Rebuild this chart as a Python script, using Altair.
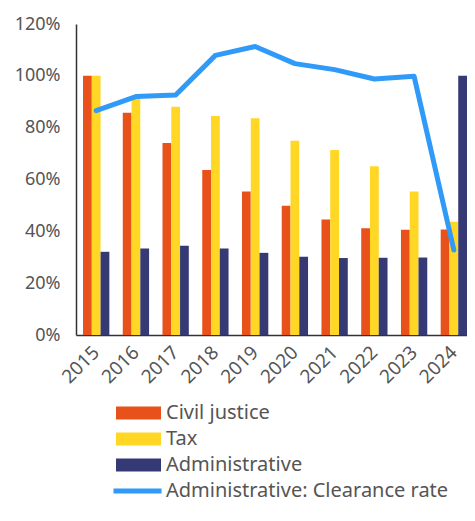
import altair as alt
import pandas as pd

years = [str(y) for y in range(2015, 2025)]
civil = [100, 85.8, 74.1, 63.7, 55.4, 49.9, 44.6, 41.2, 40.6, 40.7]
tax = [100, 91.5, 88.1, 84.5, 83.6, 75.0, 71.4, 65.1, 55.4, 43.7]
admin = [32.1, 33.4, 34.4, 33.4, 31.7, 30.2, 29.7, 29.8, 29.9, 100]
clearance = [86.6, 92.0, 92.6, 107.9, 111.3, 104.7, 102.4, 98.8, 99.8, 32.8]

series_names = ["Civil justice", "Tax", "Administrative"]
series_colors = ["#E85119", "#FFD724", "#363A74"]
line_name = "Administrative: Clearance rate"
line_color = "#2F9AF7"
y_ticks = [0, 20, 40, 60, 80, 100, 120]

rows = []
for i, yr in enumerate(years):
    for s, vals in zip(series_names, [civil, tax, admin]):
        rows.append({"year": yr, "series": s, "value": vals[i]})
bars_df = pd.DataFrame(rows)
line_df = pd.DataFrame({"year": years, "value": clearance, "line": [line_name] * len(years)})

FONT = "Noto Sans"
TXT = "#555555"

x_scale = alt.Scale(domain=years, paddingInner=0.338, paddingOuter=0.0885, align=1)
y_scale = alt.Scale(domain=[0, 120])

bars = alt.Chart(bars_df).mark_bar().encode(
    x=alt.X("year:N", scale=x_scale, sort=years,
            axis=alt.Axis(title=None, labelAngle=-45, ticks=False, labelFontSize=19,
                          labelPadding=14, labelColor=TXT, labelFont=FONT,
                          labelAlign="right", labelBaseline="middle",
                          domainColor="#333333", domainWidth=1.5)),
    xOffset=alt.XOffset("series:N", sort=series_names,
                        scale=alt.Scale(domain=series_names, paddingInner=0, paddingOuter=0)),
    y=alt.Y("value:Q", scale=y_scale,
            axis=alt.Axis(title=None, values=y_ticks, labelExpr="datum.value + '%'",
                          ticks=False, grid=False, labelFontSize=18, labelPadding=16,
                          labelColor=TXT, labelFont=FONT,
                          domainColor="#333333", domainWidth=1.5)),
    color=alt.Color("series:N", sort=series_names,
                    scale=alt.Scale(domain=series_names, range=series_colors),
                    legend=alt.Legend(title=None, orient="none", legendX=40, legendY=376,
                                      symbolType="M-1,-0.289H1V0.289H-1Z", symbolSize=2025,
                                      symbolStrokeWidth=0, symbolOpacity=1,
                                      clipHeight=26, rowPadding=0, labelOffset=5,
                                      labelFontSize=20, labelColor=TXT, labelFont=FONT,
                                      labelLimit=400, padding=0)),
)

line = alt.Chart(line_df).mark_line(strokeWidth=5, strokeCap="round", strokeJoin="round").encode(
    x=alt.X("year:N", sort=years),
    y=alt.Y("value:Q"),
    stroke=alt.Stroke("line:N", scale=alt.Scale(domain=[line_name], range=[line_color]),
                      legend=alt.Legend(title=None, orient="none", legendX=35, legendY=454,
                                        symbolType="stroke", symbolSize=2304,
                                        symbolStrokeWidth=5, clipHeight=26, labelOffset=2,
                                        labelFontSize=20, labelColor=TXT, labelFont=FONT,
                                        labelLimit=400, padding=0)),
)

chart = alt.layer(bars, line).properties(
    width=391, height=311,
    autosize=alt.AutoSizeParams(type="none"),
    padding={"left": 68, "top": 16, "right": 0, "bottom": 170},
).configure_view(stroke=None)

chart.save("out.html", embed_options={"renderer": "svg", "actions": False})
